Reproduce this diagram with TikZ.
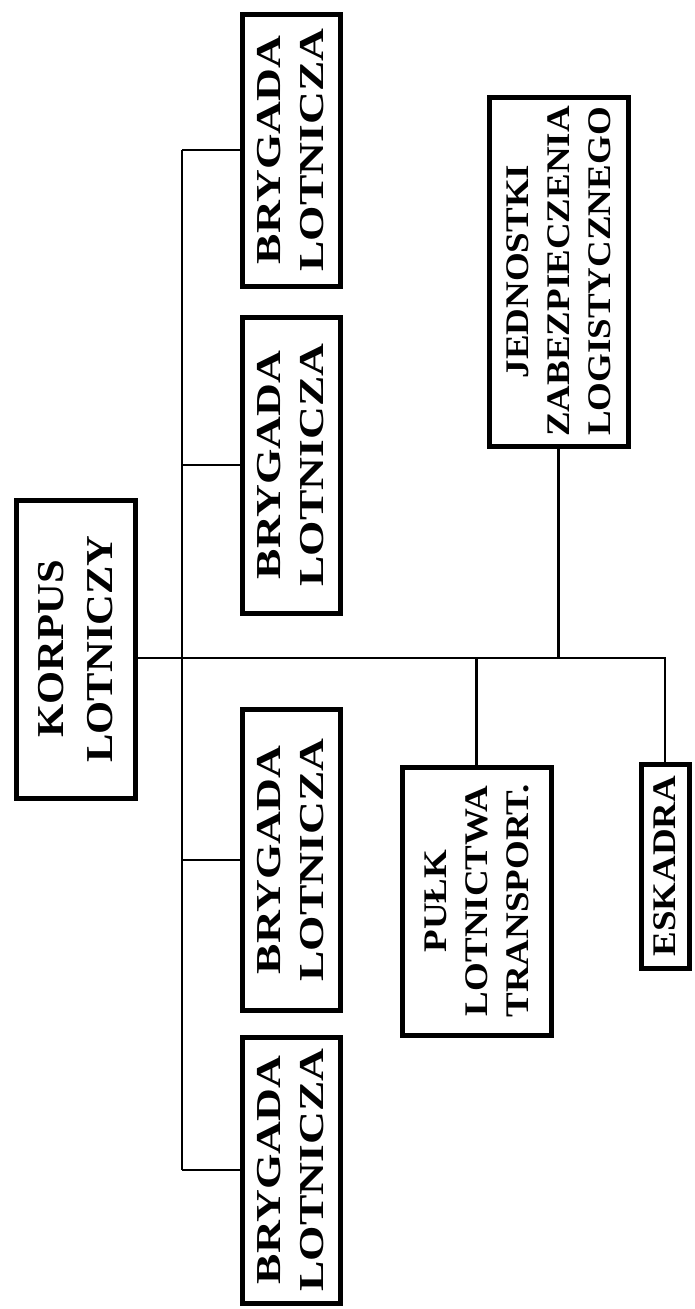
\documentclass[tikz,border=0pt]{standalone}
\usepackage{fontspec}
\newfontfamily\chartfont[FakeStretch=1.12, BoldFeatures={FakeStretch=1.12}]{Liberation Serif}
\newfontfamily\widefont[FakeStretch=1.3, BoldFeatures={FakeStretch=1.3}]{Liberation Serif}

\begin{document}
\begin{tikzpicture}[
  x=1pt, y=-1pt,
  unit/.style = {draw, line width=5pt, fill=white, inner sep=0pt, rotate=90, align=center,
    font=\chartfont\bfseries\fontsize{33}{41}\selectfont},
  brig/.style = {unit, minimum height=98pt, font=\widefont\bfseries\fontsize{35}{43}\selectfont},
  corps/.style = {unit, font=\chartfont\bfseries\fontsize{38}{49}\selectfont},
  link/.style = {line width=2.4pt}
  ]
	\useasboundingbox (0,0) rectangle (694,1309);

	% rotated boxes: minimum width runs along the text, i.e. down the page
	\node[corps, minimum width=298pt, minimum height=119pt] (korpus) at (75.5,649) {KORPUS\\LOTNICZY};

	\node[brig, minimum width=272pt] (bryg1) at (291,150) {BRYGADA\\LOTNICZA};
	\node[brig, minimum width=296pt] (bryg2) at (291,465) {BRYGADA\\LOTNICZA};
	\node[brig, minimum width=301pt] (bryg3) at (291,860) {BRYGADA\\LOTNICZA};
	\node[brig, minimum width=266pt] (bryg4) at (291,1170) {BRYGADA\\LOTNICZA};

	\node[unit, minimum width=268pt, minimum height=149pt] (pulk) at (476.5,901) {PUŁK\\LOTNICTWA\\TRANSPORT.};
	\node[unit, minimum width=349pt, minimum height=139pt] (jedn) at (558.5,271.5) {JEDNOSTKI\\ZABEZPIECZENIA\\LOGISTYCZNEGO};
	\node[unit, minimum width=204pt, minimum height=48pt] (eskadra) at (665,866) {ESKADRA};

	\coordinate (@main) at (665,658);
	\coordinate (@bus) at (182,0);

	% korpus.south is its right side once turned
	\draw[link] (korpus.south |- @main) -- (@main) -- (eskadra);
	\draw[link] (jedn) -- (jedn |- @main);
	\draw[link] (pulk |- @main) -- (pulk);

	\draw[link] (bryg1 -| @bus) -- (bryg4 -| @bus);
	\foreach \b in {bryg1,bryg2,bryg3,bryg4}
		\draw[link] (\b -| @bus) -- (\b);

\end{tikzpicture}
\end{document}
